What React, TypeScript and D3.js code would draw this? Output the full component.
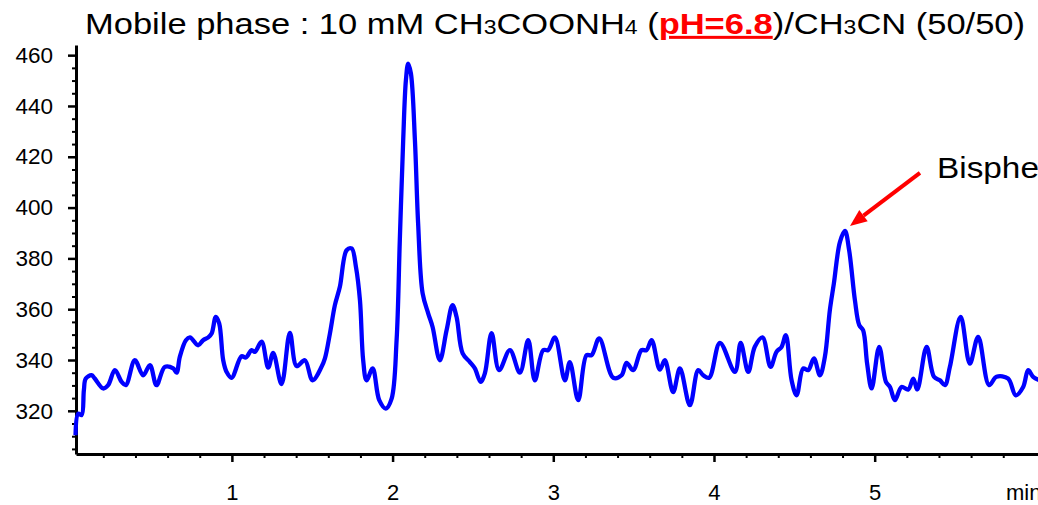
import React, { useEffect, useRef } from 'react';
import * as d3 from 'd3';

// retention time (min) and detector response
const times = [
  0.027, 0.044, 0.065, 0.079, 0.091, 0.127, 0.147, 0.199, 0.23, 0.272, 0.314, 0.34, 0.396, 0.448, 0.49, 0.531,
  0.583, 0.635, 0.656, 0.676, 0.714, 0.739, 0.79, 0.821, 0.853, 0.874, 0.9, 0.921, 0.946, 0.967, 0.998, 1.06,
  1.087, 1.123, 1.143, 1.185, 1.226, 1.257, 1.309, 1.361, 1.403, 1.454, 1.502, 1.558, 1.579, 1.61, 1.641, 1.672,
  1.714, 1.745, 1.772, 1.797, 1.817, 1.838, 1.876, 1.917, 1.958, 1.994, 2.025, 2.045, 2.066, 2.083, 2.097, 2.114,
  2.139, 2.159, 2.187, 2.222, 2.249, 2.294, 2.336, 2.373, 2.398, 2.436, 2.481, 2.512, 2.548, 2.574, 2.616, 2.663,
  2.73, 2.792, 2.844, 2.885, 2.937, 2.968, 3.01, 3.072, 3.103, 3.155, 3.207, 3.238, 3.286, 3.373, 3.425, 3.456,
  3.497, 3.549, 3.58, 3.612, 3.663, 3.694, 3.746, 3.788, 3.85, 3.902, 3.933, 3.97, 4.037, 4.13, 4.166, 4.213,
  4.254, 4.302, 4.352, 4.389, 4.421, 4.447, 4.483, 4.514, 4.555, 4.586, 4.622, 4.659, 4.69, 4.721, 4.746, 4.784,
  4.815, 4.841, 4.877, 4.904, 4.928, 4.953, 4.981, 5.028, 5.07, 5.095, 5.126, 5.167, 5.209, 5.24, 5.265, 5.323,
  5.369, 5.406, 5.437, 5.468, 5.535, 5.592, 5.644, 5.712, 5.758, 5.83, 5.878, 5.924, 5.955, 5.986, 6.027,
];
const response = [
  310.4, 318.9, 318.3, 328.1, 332.7, 334.0, 332.7, 328.8, 330.1, 336.0, 331.4, 330.1, 339.9, 334.0, 338.0, 330.1,
  337.3, 336.7, 335.0, 341.2, 347.8, 348.9, 345.8, 347.8, 348.9, 350.4, 357.0, 354.4, 339.9, 335.3, 333.0, 341.5,
  341.0, 343.9, 343.2, 347.2, 337.0, 342.8, 330.5, 350.7, 337.6, 339.9, 332.0, 337.3, 340.6, 350.4, 361.6, 368.8,
  383.2, 383.9, 376.7, 363.5, 339.9, 332.0, 336.7, 324.2, 320.9, 324.8, 347.8, 387.2, 426.5, 450.2, 456.7, 452.8,
  426.5, 393.7, 366.2, 358.3, 353.0, 339.9, 351.7, 361.6, 357.0, 342.6, 339.2, 336.7, 331.4, 334.7, 350.6, 336.0,
  343.9, 335.0, 347.8, 332.0, 343.9, 343.9, 348.9, 332.0, 339.2, 324.2, 341.9, 341.9, 348.5, 333.0, 334.0, 338.9,
  336.0, 343.9, 343.9, 347.8, 336.2, 339.9, 327.4, 336.7, 322.2, 336.0, 334.0, 333.0, 346.7, 335.3, 346.7, 335.3,
  345.2, 348.9, 337.3, 343.2, 345.2, 349.8, 332.0, 326.1, 336.7, 336.0, 340.6, 334.0, 341.2, 359.6, 370.1, 386.5,
  390.8, 383.2, 363.5, 353.7, 351.7, 338.6, 328.8, 345.2, 331.4, 329.4, 324.2, 329.4, 328.4, 332.7, 328.4, 345.2,
  333.4, 332.0, 330.1, 337.3, 357.0, 338.6, 349.1, 330.1, 333.4, 332.7, 326.1, 329.4, 336.0, 333.4, 332.0,
];

const xMajor = [1, 2, 3, 4, 5];
const yMajor = [320, 340, 360, 380, 400, 420, 440, 460];

const labelPeak = { t: 4.815, v: 390.8, name: 'Bisphenol A' };

const W = 1038;
const H = 505;
const FONT = '"Liberation Sans", Arial, sans-serif';
const STRETCH = 1.15; // the original picture is a little wider than tall

const App = () => {
  const svgRef = useRef<SVGSVGElement>(null);

  useEffect(() => {
    const svg = d3.select(svgRef.current);
    svg.selectAll('*').remove();

    const x = d3.scaleLinear().domain([0.03, 6.02]).range([76, 1038.6]);
    const y = d3.scaleLinear().domain([303, 464]).range([454, 45]);

    const xMinor = d3.range(0.2, 6.01, 0.2).filter(t => Math.abs(t - Math.round(t)) > 0.01);
    const yMinor = d3.range(305, 461, 5).filter(v => v % 20 !== 0);

    // minor ticks
    svg.append('g')
      .attr('transform', `translate(0, 454)`)
      .call(d3.axisBottom(x).tickValues(xMinor).tickSize(4).tickFormat(() => ''))
      .call(g => g.select('.domain').remove())
      .call(g => g.selectAll('line').attr('stroke-width', 2));
    svg.append('g')
      .attr('transform', `translate(76, 0)`)
      .call(d3.axisLeft(y).tickValues(yMinor).tickSize(4).tickFormat(() => ''))
      .call(g => g.select('.domain').remove())
      .call(g => g.selectAll('line').attr('stroke-width', 2));

    // major axes
    svg.append('g')
      .attr('transform', `translate(0, 454)`)
      .call(d3.axisBottom(x).tickValues(xMajor).tickSize(8).tickSizeOuter(0).tickPadding(22).tickFormat(d3.format('d')))
      .call(g => g.select('.domain').attr('stroke-width', 3))
      .call(g => g.selectAll('line').attr('stroke-width', 2.5))
      .call(g => g.selectAll('text').attr('font-size', 22).attr('font-family', FONT).attr('fill', '#000'));
    svg.append('g')
      .attr('transform', `translate(76, 0)`)
      .call(d3.axisLeft(y).tickValues(yMajor).tickSize(8).tickSizeOuter(0).tickPadding(15).tickFormat(d3.format('d')))
      .call(g => g.select('.domain').attr('stroke-width', 3))
      .call(g => g.selectAll('line').attr('stroke-width', 2.5))
      .call(g => g.selectAll('text').attr('font-size', 22.5).attr('font-family', FONT).attr('fill', '#000'));

    svg.append('text')
      .attr('x', 1006)
      .attr('y', 500)
      .attr('font-size', 22)
      .attr('font-family', FONT)
      .text('min');

    // trace
    const pts = times.map((t, i) => [t, response[i]] as [number, number]);
    const line = d3.line<[number, number]>()
      .x(d => x(d[0]))
      .y(d => y(d[1]))
      .curve(d3.curveCatmullRom.alpha(0.5));
    svg.append('path')
      .datum(pts)
      .attr('d', line)
      .attr('fill', 'none')
      .attr('stroke', '#0000ff')
      .attr('stroke-width', 4.3)
      .attr('stroke-linejoin', 'round');

    // annotation arrow
    const tipX = x(labelPeak.t) + 5;
    const tipY = y(labelPeak.v) - 5;
    const fromX = tipX + 70;
    const fromY = tipY - 53;
    const ang = Math.atan2(fromY - tipY, fromX - tipX);
    const headLen = 17;
    const headW = 7;
    const bx = tipX + headLen * Math.cos(ang);
    const by = tipY + headLen * Math.sin(ang);
    svg.append('line')
      .attr('x1', fromX).attr('y1', fromY)
      .attr('x2', bx).attr('y2', by)
      .attr('stroke', '#ff0000')
      .attr('stroke-width', 4);
    svg.append('polygon')
      .attr('points', [
        [tipX, tipY],
        [bx + headW * Math.sin(ang), by - headW * Math.cos(ang)],
        [bx - headW * Math.sin(ang), by + headW * Math.cos(ang)],
      ].map(p => p.join(',')).join(' '))
      .attr('fill', '#ff0000');
    svg.append('text')
      .attr('transform', `translate(937, 178) scale(${STRETCH}, 1)`)
      .attr('font-size', 29)
      .attr('font-family', FONT)
      .text(labelPeak.name);

    // title
    const title = svg.append('text')
      .attr('transform', `translate(85, 34) scale(${STRETCH}, 1)`)
      .attr('font-size', 30)
      .attr('font-family', FONT);
    const parts: [string, string][] = [
      ['Mobile phase : 10 mM CH', 'n'], ['3', 's'], ['COONH', 'n'], ['4', 's'], [' (', 'n'],
      ['pH=6.8', 'r'], [')/CH', 'n'], ['3', 's'], ['CN (50/50)', 'n'],
    ];
    parts.forEach(([s, k]) => {
      const ts = title.append('tspan').text(s);
      if (k === 's') ts.attr('font-size', 20);
      if (k === 'r') ts.attr('fill', '#ff0000').attr('font-weight', 'bold').attr('text-decoration', 'underline');
    });
  }, []);

  return (
    <svg
      ref={svgRef}
      width={W}
      height={H}
      style={{ position: 'absolute', left: 0, top: 0, background: '#fff', overflow: 'hidden' }}
    />
  );
};

export default App;
